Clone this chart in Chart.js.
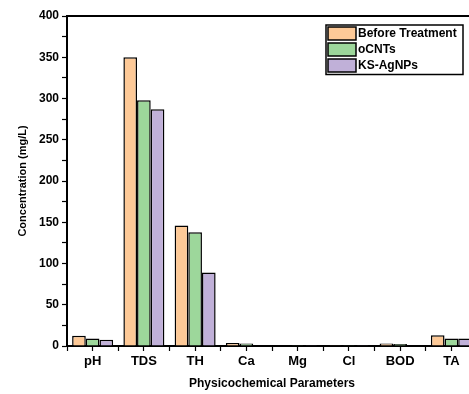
<!DOCTYPE html>
<html>
<head>
<meta charset="utf-8">
<script src="https://cdn.jsdelivr.net/npm/chart.js@4.4.1/dist/chart.umd.min.js"></script>
<style>
  html, body { margin: 0; padding: 0; background: #fff; overflow: hidden; }
  #wrap { width: 469px; height: 394px; overflow: hidden; }
  #box { width: 480px; height: 394px; }
</style>
</head>
<body>
<div id="wrap"><div id="box"><canvas id="chemGraph"></canvas></div></div>
<script>
// categories and series
const categories = ['pH', 'TDS', 'TH', 'Ca', 'Mg', 'Cl', 'BOD', 'TA'];
const beforeTreatment = [12.3, 350, 146, 3.5, 0.4, 0.3, 3, 13];
const oCNTs = [9.2, 298, 138, 3, 0.3, 0.2, 2.5, 9];
const ksAgNPs = [7.6, 287, 89, 0.5, 0.2, 0.2, 0.4, 9];
const seriesNames = ['Before Treatment', 'oCNTs', 'KS-AgNPs'];
const seriesColors = ['#fdc997', '#9dd79b', '#c0b0d8'];
const yTicks = [0, 50, 100, 150, 200, 250, 300, 350, 400];

const FONT = '"Liberation Sans", Arial, sans-serif';

function toPoints(values) {
    return values.map((v, i) => ({ x: i + 1, y: v }));
}

// top frame line and boxed legend (Origin style)
const frameAndLegend = {
    id: 'frameAndLegend',
    afterDraw(chart) {
        const ctx = chart.ctx;
        const area = chart.chartArea;
        ctx.save();
        ctx.strokeStyle = '#000';
        ctx.lineWidth = 2;
        ctx.beginPath();
        ctx.moveTo(area.left - 1, area.top);
        ctx.lineTo(area.right, area.top);
        ctx.stroke();

        // legend
        let lx = 326, ly = 25, lw = 137, lh = 49.5;
        ctx.fillStyle = '#fff';
        ctx.fillRect(lx, ly, lw, lh);
        ctx.lineWidth = 1.5;
        ctx.strokeRect(lx, ly, lw, lh);
        ctx.font = 'bold 12px ' + FONT;
        ctx.textBaseline = 'middle';
        chart.data.datasets.forEach((ds, i) => {
            let cy = ly + 8.5 + i * 16;
            ctx.fillStyle = ds.backgroundColor;
            ctx.fillRect(lx + 2, cy - 6.5, 28, 13);
            ctx.strokeStyle = '#000';
            ctx.lineWidth = 1.5;
            ctx.strokeRect(lx + 2, cy - 6.5, 28, 13);
            ctx.fillStyle = '#000';
            ctx.fillText(ds.label, lx + 32, cy + 0.5);
        });
        ctx.restore();
    }
};

function makeDataset(idx, values) {
    return {
        label: seriesNames[idx],
        data: toPoints(values),
        backgroundColor: seriesColors[idx],
        borderColor: '#000',
        borderWidth: 1.5,
        barPercentage: 1,
        // ruler sees the half-step ticks, so 1.6 of that = 0.8 of a category
        categoryPercentage: 1.6
    };
}

let ctx = document.getElementById('chemGraph').getContext('2d');
let chemChart = new Chart(ctx, {
    type: 'bar',
    data: {
        datasets: [
            makeDataset(0, beforeTreatment),
            makeDataset(1, oCNTs),
            makeDataset(2, ksAgNPs)
        ]
    },
    options: {
        responsive: true,
        maintainAspectRatio: false,
        animation: false,
        layout: { padding: { top: 16, right: 2, left: 0, bottom: 0 } },
        plugins: {
            legend: { display: false },
            tooltip: { enabled: false }
        },
        scales: {
            x: {
                type: 'linear',
                offset: false,
                min: 0.5,
                max: 8.5,
                afterBuildTicks(scale) {
                    let ticks = [];
                    for (let v = 0.5; v <= 8.5; v += 0.5) ticks.push({ value: v });
                    scale.ticks = ticks;
                },
                afterFit(scale) { scale.height = 48; },
                border: { display: true, color: '#000', width: 2 },
                grid: {
                    offset: false,
                    drawOnChartArea: false,
                    tickLength: 5,
                    tickColor: '#000',
                    tickWidth: 1.2
                },
                ticks: {
                    autoSkip: false,
                    maxRotation: 0,
                    padding: 3,
                    color: '#000',
                    font: { family: FONT, size: 13, weight: 'bold' },
                    callback: (v) => Number.isInteger(v) && v >= 1 && v <= categories.length ? categories[v - 1] : ''
                },
                title: {
                    display: true,
                    text: 'Physicochemical Parameters',
                    color: '#000',
                    font: { family: FONT, size: 12, weight: 'bold' },
                    padding: { top: 0, bottom: 3 }
                }
            },
            y: {
                min: 0,
                max: 400,
                afterBuildTicks(scale) {
                    let ticks = [];
                    for (let v = 0; v <= 400; v += 25) ticks.push({ value: v });
                    scale.ticks = ticks;
                },
                afterFit(scale) { scale.width = 67; },
                border: { display: true, color: '#000', width: 2 },
                grid: {
                    drawOnChartArea: false,
                    tickLength: 5,
                    tickColor: '#000',
                    tickWidth: 1.2
                },
                ticks: {
                    autoSkip: false,
                    padding: 3,
                    color: '#000',
                    font: { family: FONT, size: 12, weight: 'bold' },
                    callback: (v) => yTicks.includes(v) ? String(v) : ''
                },
                title: {
                    display: true,
                    text: 'Concentration (mg/L)',
                    color: '#000',
                    font: { family: FONT, size: 11, weight: 'bold' },
                    padding: { top: 16, bottom: 0 }
                }
            }
        }
    },
    plugins: [frameAndLegend]
});
</script>
</body>
</html>
